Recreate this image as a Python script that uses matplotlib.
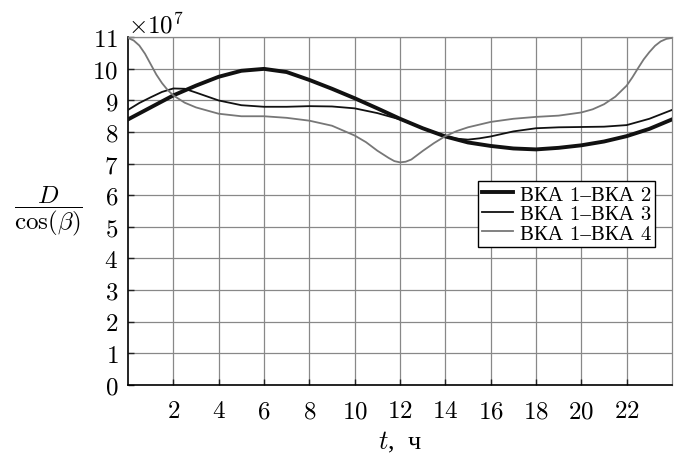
#
#   Distance ratio D/cos(beta) over one day for three satellite pairs.
#

import matplotlib

matplotlib.use("Agg")
import matplotlib.pyplot as plt
from matplotlib.ticker import ScalarFormatter
import numpy as np

# values, in units of 1e7
t_12 = list(range(0, 25))
d_12 = [8.40, 8.78, 9.16, 9.47, 9.75, 9.94, 10.0, 9.90, 9.65, 9.37, 9.07,
        8.75, 8.42, 8.12, 7.86, 7.67, 7.56, 7.48, 7.45, 7.50, 7.58, 7.70,
        7.87, 8.10, 8.40]

t_13 = [0, 0.5, 1, 1.5, 2, 2.5, 3, 4, 5, 6, 7, 8, 9, 10, 11, 12, 13, 14,
        14.5, 15, 15.5, 16, 17, 18, 19, 20, 21, 22, 23, 24]
d_13 = [8.70, 8.92, 9.10, 9.27, 9.38, 9.37, 9.25, 9.00, 8.85, 8.80, 8.80,
        8.82, 8.81, 8.75, 8.60, 8.40, 8.13, 7.87, 7.79, 7.76, 7.80, 7.86,
        8.02, 8.12, 8.15, 8.16, 8.17, 8.22, 8.42, 8.70]

t_14 = [0, 0.25, 0.5, 0.75, 1, 1.25, 1.5, 1.75, 2, 2.5, 3, 4, 5, 6, 7, 8,
        9, 10, 10.5, 11, 11.5, 11.75, 12, 12.25, 12.5, 13, 13.5, 14, 14.5,
        15, 16, 17, 18, 19, 20, 20.5, 21, 21.5, 22, 22.25, 22.5, 22.75, 23,
        23.25, 23.5, 23.75, 24]
d_14 = [10.98, 10.90, 10.74, 10.48, 10.15, 9.82, 9.55, 9.33, 9.16, 8.93,
        8.78, 8.58, 8.50, 8.50, 8.45, 8.36, 8.20, 7.89, 7.68, 7.41, 7.18,
        7.08, 7.04, 7.06, 7.13, 7.40, 7.65, 7.87, 8.03, 8.15, 8.32, 8.42,
        8.48, 8.52, 8.62, 8.72, 8.88, 9.12, 9.47, 9.73, 10.02, 10.30, 10.53,
        10.73, 10.87, 10.95, 10.98]

labels = ["ВКА 1–ВКА 2", "ВКА 1–ВКА 3", "ВКА 1–ВКА 4"]
xticks = list(range(2, 24, 2))
yticks = list(range(0, 12))


def use_custom_formatting():
    # CM digits, Cyrillic falls back to a serif family
    matplotlib.rcParams["font.family"] = ["cmr10", "Liberation Serif"]
    matplotlib.rcParams["mathtext.fontset"] = "cm"
    matplotlib.rcParams["axes.formatter.use_mathtext"] = True
    matplotlib.rcParams["font.size"] = 18


def main():
    use_custom_formatting()

    fig = plt.figure(figsize=(6.79, 4.56), dpi=100)
    ax = fig.add_axes([0.1885, 0.1542, 0.8012, 0.7618])

    scale = 1e7
    ax.plot(t_12, np.array(d_12) * scale, color="#111111", lw=2.8,
            label=labels[0], zorder=3)
    ax.plot(t_13, np.array(d_13) * scale, color="#111111", lw=1.3,
            label=labels[1], zorder=3)
    ax.plot(t_14, np.array(d_14) * scale, color="#777777", lw=1.3,
            label=labels[2], zorder=3)

    ax.set_xlim(0, 24)
    ax.set_ylim(0, 11 * scale)
    ax.set_xticks(xticks)
    ax.set_yticks([y * scale for y in yticks])

    # fixed order of magnitude -> "x10^7" above the axis
    fmt = ScalarFormatter(useMathText=True)
    fmt.set_powerlimits((7, 7))
    ax.yaxis.set_major_formatter(fmt)
    ax.yaxis.get_offset_text().set_fontsize(18)

    ax.grid(True, color="#888888", lw=0.9)
    ax.set_axisbelow(True)
    ax.tick_params(direction="in", length=4, width=1, color="#222222")
    ax.tick_params(axis="x", pad=11)
    ax.tick_params(axis="y", pad=7)

    for side in ["top", "right"]:
        ax.spines[side].set_color("#888888")
        ax.spines[side].set_linewidth(0.9)
    for side in ["left", "bottom"]:
        ax.spines[side].set_linewidth(1.2)

    ax.set_xlabel(r"$t$,  ч", labelpad=5, fontsize=19,
                  family=["Liberation Serif"])
    fig.text(0.071, 0.537, r"$\dfrac{D}{\cos(\beta)}$", fontsize=18,
             ha="center", va="center")

    leg = ax.legend(loc="upper right", bbox_to_anchor=(0.969, 0.587),
                    borderaxespad=0, fontsize=15, frameon=True, fancybox=False,
                    framealpha=1, edgecolor="black", handlelength=1.5,
                    handletextpad=0.3, labelspacing=0.05, borderpad=0.2)
    leg.get_frame().set_linewidth(1.0)

    fig.savefig("out.png", dpi=100)


if __name__ == "__main__":
    main()
